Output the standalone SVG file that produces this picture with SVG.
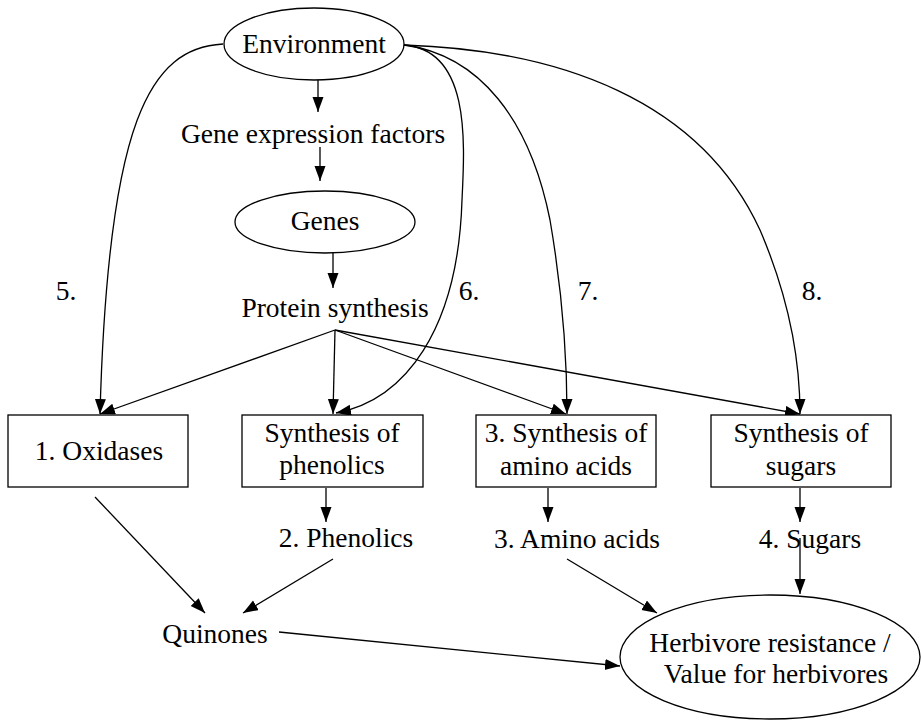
<svg xmlns="http://www.w3.org/2000/svg" width="921" height="721" viewBox="0 0 921 721">
<defs>
<marker id="ah" markerUnits="userSpaceOnUse" markerWidth="16" markerHeight="12" refX="15" refY="5.5" orient="auto">
<path d="M0,0 L15,5.5 L0,11 z" fill="#000"/>
</marker>
<style>
text{font-family:"Liberation Serif","Times New Roman","DejaVu Serif",serif;font-size:27.5px;fill:#000;text-anchor:middle}
.s{fill:#fff;stroke:#000;stroke-width:1.3}
.c path,.c line{fill:none;stroke:#000;stroke-width:1.3;marker-end:url(#ah)}
</style>
</defs>
<rect width="921" height="721" fill="#fff"/>
<g class="c" id="connectors">
<line x1="318" y1="77" x2="318" y2="112"/>
<line x1="320" y1="147" x2="320" y2="181"/>
<line x1="333" y1="253" x2="333" y2="288"/>
<line x1="335" y1="330" x2="100" y2="414"/>
<line x1="335" y1="330" x2="333" y2="414"/>
<line x1="335" y1="330" x2="566" y2="414"/>
<line x1="335" y1="330" x2="800" y2="414"/>
<path d="M223,44 C150,48 108,120 100,414"/>
<path d="M404,45 C470,50 465,140 462,200 C458,330 405,400 336,413"/>
<path d="M404,45 C480,55 530,120 550,220 C562,290 567,360 567,414"/>
<path d="M404,45 C560,50 700,100 760,230 C790,300 800,360 800,414"/>
<line x1="326" y1="488" x2="326" y2="522"/>
<line x1="548" y1="488" x2="548" y2="522"/>
<line x1="800" y1="488" x2="800" y2="522"/>
<line x1="95" y1="497" x2="205" y2="613"/>
<line x1="333" y1="559" x2="243" y2="613"/>
<line x1="567" y1="559" x2="657" y2="613"/>
<line x1="800" y1="538" x2="800" y2="594"/>
<line x1="279" y1="632" x2="620" y2="666"/>
</g>
<g id="environment"><ellipse class="s" cx="314" cy="44" rx="90" ry="36"/><text x="314" y="53" font-family="Liberation Serif, serif">Environment</text></g>
<g id="gene-expression-factors"><text x="313" y="143" font-family="Liberation Serif, serif">Gene expression factors</text></g>
<g id="genes"><ellipse class="s" cx="325" cy="222" rx="90" ry="31"/><text x="325" y="230">Genes</text></g>
<g id="protein-synthesis"><text x="335" y="317">Protein synthesis</text></g>
<g id="label-5"><text x="66" y="300">5.</text></g>
<g id="label-6"><text x="469" y="300">6.</text></g>
<g id="label-7"><text x="588" y="300">7.</text></g>
<g id="label-8"><text x="812" y="300">8.</text></g>
<g id="oxidases"><rect class="s" x="8" y="415" width="180" height="72"/><text x="99" y="460">1. Oxidases</text></g>
<g id="synthesis-phenolics"><rect class="s" x="242" y="415" width="181" height="72"/><text x="332" y="442">Synthesis of</text><text x="332" y="474">phenolics</text></g>
<g id="synthesis-amino"><rect class="s" x="476" y="415" width="180" height="72"/><text x="566" y="442">3. Synthesis of</text><text x="566" y="475">amino acids</text></g>
<g id="synthesis-sugars"><rect class="s" x="711" y="415" width="180" height="72"/><text x="801" y="442">Synthesis of</text><text x="801" y="475">sugars</text></g>
<g id="phenolics"><text x="346" y="547">2. Phenolics</text></g>
<g id="amino-acids"><text x="577" y="548">3. Amino acids</text></g>
<g id="sugars"><text x="810" y="548">4. Sugars</text></g>
<g id="quinones"><text x="215" y="643">Quinones</text></g>
<g id="herbivore"><ellipse class="s" cx="770" cy="657" rx="150" ry="62"/><text x="770" y="652">Herbivore resistance /</text><text x="776" y="683">Value for herbivores</text></g>
</svg>
